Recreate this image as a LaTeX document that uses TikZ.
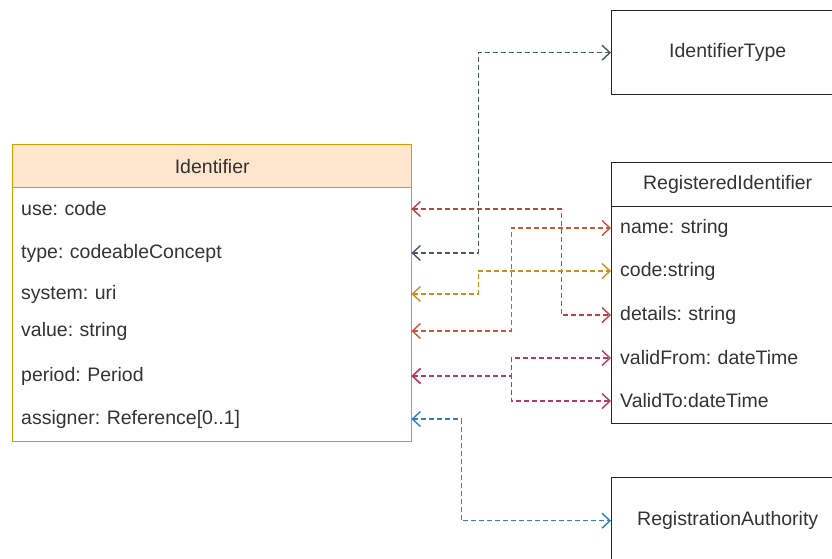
\documentclass[tikz,border=0pt]{standalone}
\usepackage{fontspec}
\setmainfont{Liberation Sans}
\frenchspacing
\usetikzlibrary{arrows.meta}
\definecolor{idborder}{HTML}{D79B00}
\definecolor{idfill}{HTML}{FFE6CC}
\definecolor{txt}{HTML}{333333}
\definecolor{cUse}{HTML}{B8433F}
\definecolor{cType}{HTML}{4A5868}
\definecolor{cSys}{HTML}{CF8D1E}
\definecolor{cVal}{HTML}{CC5535}
\definecolor{cPer}{HTML}{B53A68}
\definecolor{cAss}{HTML}{2A82BE}
\begin{document}
\begin{tikzpicture}[x=1pt,y=-1pt,
  every node/.style={font=\fontsize{19.5}{23}\selectfont, text=txt},
  idhdr/.style={draw=idborder, fill=idfill, line width=1.4pt, anchor=north west, minimum width=399pt, minimum height=43pt, inner sep=0pt},
  idbox/.style={draw=idborder, line width=1.4pt, anchor=north west, minimum width=399pt, minimum height=254pt, inner sep=0pt},
  rbox/.style={draw=black!85, line width=1.4pt, anchor=north west, minimum width=232pt, inner sep=0pt},
  lrow/.style={anchor=west, inner xsep=9pt, inner ysep=0pt, text width=381pt, align=left, minimum height=20pt},
  rrow/.style={anchor=west, inner xsep=9pt, inner ysep=0pt, text width=214pt, align=left, minimum height=20pt},
  link/.style={line width=1.4pt, dash pattern=on 5pt off 3pt, {Straight Barb[length=8pt,width=15pt]}-{Straight Barb[length=8pt,width=15pt]}}
]
\useasboundingbox (0,0) rectangle (832,558);
\clip (0,0) rectangle (832,558);

% Identifier class
\node[idbox] (idbody) at (12,187) {};
\node[idhdr] (idhead) at (12,144) {Identifier};
\node[lrow] (use) at (12,209) {use: code};
\node[lrow] (type) at (12,253) {type: codeableConcept};
\node[lrow] (system) at (12,294) {system: uri};
\node[lrow] (value) at (12,331) {value: string};
\node[lrow] (period) at (12,376) {period: Period};
\node[lrow] (assigner) at (12,419) {assigner: Reference[0..1]};

% IdentifierType
\node[rbox, minimum height=84pt] (itype) at (611,10) {IdentifierType};

% RegisteredIdentifier
\node[rbox, minimum height=261pt] (rbody) at (611,162) {};
\node[rbox, minimum height=44pt] (rhead) at (611,162) {RegisteredIdentifier};
\node[rrow] (name) at (611,228) {name: string};
\node[rrow] (code) at (611,271) {code:string};
\node[rrow] (details) at (611,315) {details: string};
\node[rrow] (vfrom) at (611,358) {validFrom: dateTime};
\node[rrow] (vto) at (611,401) {ValidTo:dateTime};

% RegistrationAuthority
\node[rbox, minimum height=86pt] (rauth) at (611,477) {RegistrationAuthority};

% connectors
\draw[link, cType] (type.east) -- ++(67,0) |- (itype.west);
\draw[link, cUse] (use.east) -- ++(150,0) |- (details.west);
\draw[link, cVal] (value.east) -- ++(100,0) |- (name.west);
\draw[link, cSys] (system.east) -- ++(67,0) |- (code.west);
\draw[link, cPer] (period.east) -- ++(100,0) |- (vfrom.west);
\draw[link, cPer] (period.east) -- ++(100,0) |- (vto.west);
\draw[link, cAss] (assigner.east) -- ++(50,0) |- (rauth.west);
\end{tikzpicture}
\end{document}
